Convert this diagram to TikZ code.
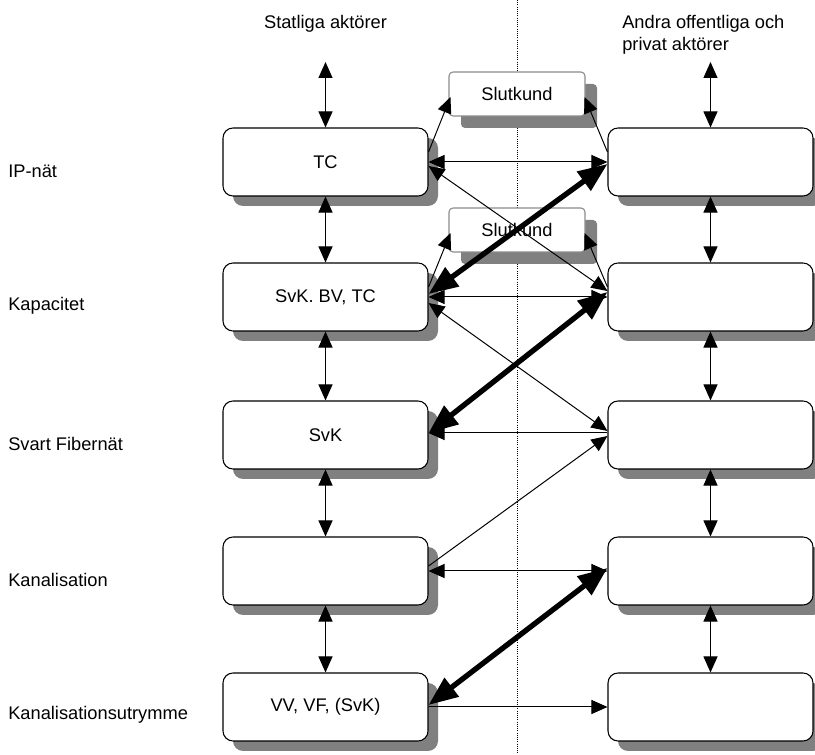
\documentclass[tikz,border=0pt]{standalone}
\usepackage{fontspec}
\setmainfont{Liberation Sans}
\usetikzlibrary{arrows.meta,shadows,calc}
\tikzset{
  lbl/.style={font=\fontsize{13.7}{16.5}\selectfont, inner sep=0pt},
  actor/.style={draw, line width=0.8pt, rounded corners=7.5pt, fill=white,
    minimum width=153.75pt, minimum height=51pt, inner sep=0pt,
    font=\fontsize{13.7}{16.5}\selectfont,
    drop shadow={shadow xshift=7.5pt, shadow yshift=-7.5pt, fill=black!50, opacity=1}},
  kund/.style={draw=black!45, line width=0.8pt, rounded corners=3pt, fill=white,
    minimum width=102pt, minimum height=33pt, inner sep=0pt,
    font=\fontsize{13.7}{16.5}\selectfont,
    drop shadow={shadow xshift=9pt, shadow yshift=-9pt, fill=black!50, opacity=1}},
  conn/.style={line width=0.75pt, >={Triangle[length=12pt,width=10.5pt]}},
  fat/.style={line width=4pt, >={Triangle[length=22pt,width=17pt]}},
}
\begin{document}
\begin{tikzpicture}[x=0.75pt,y=-0.75pt]
\useasboundingbox (0,0) rectangle (815,755);
% dotted divider
\coordinate (dtop) at (517,0);
\coordinate (dbot) at (517,755);
\draw[line width=0.6pt, dash pattern=on 0.75pt off 0.9pt] (dtop) -- (dbot);
% headers
\node[lbl] (hl) at (325.5,24) {Statliga aktörer};
\node[lbl, anchor=west, align=left] (hr) at (622,35) {Andra offentliga och\\privat aktörer};
% row labels
\node[lbl, anchor=west] (t1) at (8,171) {IP-nät};
\node[lbl, anchor=west] (t2) at (8,306) {Kapacitet};
\node[lbl, anchor=west] (t3) at (8,444) {Svart Fibernät};
\node[lbl, anchor=west] (t4) at (8,580) {Kanalisation};
\node[lbl, anchor=west] (t5) at (8,715) {Kanalisationsutrymme};
% left boxes
\node[actor] (L1) at (325.5,162) {TC};
\node[actor] (L2) at (325.5,297) {SvK. BV, TC};
\node[actor] (L3) at (325.5,435) {SvK};
\node[actor] (L4) at (325.5,571) {};
\node[actor] (L5) at (325.5,707) {VV, VF, (SvK)};
% right boxes
\node[actor] (R1) at (710.5,162) {};
\node[actor] (R2) at (710.5,297) {};
\node[actor] (R3) at (710.5,435) {};
\node[actor] (R4) at (710.5,571) {};
\node[actor] (R5) at (710.5,707) {};
% end customers
\node[kund] (K1) at (517,94) {Slutkund};
\node[kund] (K2) at (517,230) {Slutkund};
% top arrows
\coordinate (TL) at (325.5,62);
\coordinate (TR) at (710.5,62);
\draw[conn,<->] (TL) -- (L1.north);
\draw[conn,<->] (TR) -- (R1.north);
% vertical arrows
\draw[conn,<->] (L1.south) -- (L2.north);
\draw[conn,<->] (L2.south) -- (L3.north);
\draw[conn,<->] (L3.south) -- (L4.north);
\draw[conn,<->] (L4.south) -- (L5.north);
\draw[conn,<->] (R1.south) -- (R2.north);
\draw[conn,<->] (R2.south) -- (R3.north);
\draw[conn,<->] (R3.south) -- (R4.north);
\draw[conn,<->] (R4.south) -- (R5.north);
% end customer arrows
\draw[conn,->] ($(L1.east)+(0,-10)$) -- ($(K1.west)+(2,3)$);
\draw[conn,->] ($(R1.west)+(0,-10)$) -- ($(K1.east)+(-1,3)$);
\draw[conn,->] ($(L2.east)+(0,-10)$) -- ($(K2.west)+(2,3)$);
\draw[conn,->] ($(R2.west)+(0,-10)$) -- ($(K2.east)+(-1,3)$);
% horizontal arrows
\draw[conn,<->] (L1.east) -- (R1.west);
\draw[conn,<->] (L2.east) -- (R2.west);
\draw[conn,<-] ($(L3.east)+(0,-2)$) -- ($(R3.west)+(0,-2)$);
\draw[conn,<->] (L4.east) -- (R4.west);
\draw[conn,->] (L5.east) -- (R5.west);
% thin diagonals
\draw[conn,<->] ($(L1.east)+(0,4)$) -- ($(R2.west)+(0,-6)$);
\draw[conn,<->] ($(L2.east)+(0,6)$) -- ($(R3.west)+(0,-4)$);
\draw[conn,->] ($(L4.east)+(0,-5)$) -- ($(R3.west)+(0,1)$);
% thick diagonals
\draw[fat,<->] ($(L2.east)+(0,-3)$) -- ($(R1.west)+(0,2)$);
\draw[fat,<->] ($(L3.east)+(0,-2)$) -- ($(R2.west)+(0,-5)$);
\draw[fat,<->] ($(L5.east)+(0,-2)$) -- ($(R4.west)+(0,-3)$);
\end{tikzpicture}
\end{document}
